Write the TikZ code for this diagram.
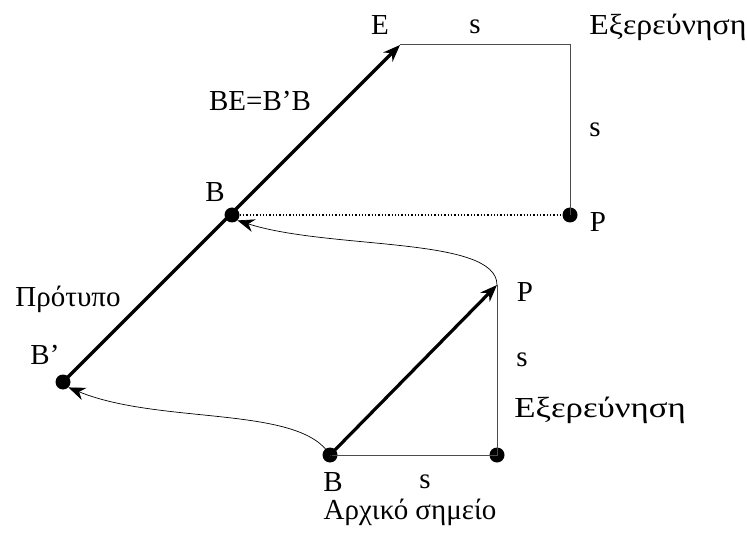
\documentclass[tikz,border=0pt]{standalone}
\usepackage{fontspec}
\setmainfont{Liberation Serif}
\usetikzlibrary{arrows.meta, positioning, calc}

\begin{document}
\begin{tikzpicture}[x=1pt, y=-1pt,
  pt/.style={circle, fill=black, inner sep=0pt, minimum size=15pt},
  lbl/.style={inner sep=1pt, font=\fontsize{29}{32}\selectfont},
  wide/.style={lbl, xscale=#1, transform shape},
  move/.style={line width=3.2pt, -{Stealth[length=17pt, width=13pt]}},
  side/.style={line width=1pt, draw=black!70},
  jump/.style={line width=0.7pt, -{Stealth[length=17pt, width=13pt]}}
]
  \useasboundingbox (0,0) rectangle (747,537);

  % points
  \node[pt] (B0) at (330,455) {};
  \node[pt] (R0) at (497,455) {};
  \coordinate (P0) at (497,285);
  \node[pt] (Bp) at (63,382) {};
  \node[pt] (B1) at (232,215) {};
  \coordinate (E) at (400,45);
  \coordinate (C1) at (570,45);
  \node[pt] (P1) at (570,215) {};

  % lines
  \draw[side] (B0.center) -- (R0.center) -- (P0);
  \draw[move] (B0.center) -- (P0);
  \draw[side] (E) -- (C1) -- (P1.center);
  \draw[dotted, line width=1.3pt] (B1) -- (P1);
  \draw[move] (Bp.center) -- (E);
  \draw[jump] (P0) .. controls (497,236) and (330,250) .. (B1.south east);
  \draw[jump] (B0.center) .. controls (300,405) and (160,425) .. (Bp.south east);

  % labels
  \node[lbl] (lE) at (380,25) {E};
  \node[lbl] (ls1) at (475,27) {s};
  \node[wide=1.1, anchor=west] (lex1) at (588,27) {Εξερεύνηση};
  \node[lbl] (ls2) at (595,130) {s};
  \node[lbl] (lP1) at (598,222) {P};
  \node[lbl] (lB1) at (215,192) {B};
  \node[lbl] (leq) at (260,101) {BE=B’B};
  \node[lbl] (lpat) at (68,299) {Πρότυπο};
  \node[lbl] (lBp) at (45,355) {B’};
  \node[lbl] (lP0) at (525,292) {P};
  \node[lbl] (ls3) at (522,360) {s};
  \node[wide=1.2] (lex0) at (600,410) {Εξερεύνηση};
  \node[lbl] (lB0) at (333,482) {B};
  \node[lbl] (ls4) at (425,482) {s};
  \node[lbl] (lstart) at (410,512) {Αρχικό σημείο};
\end{tikzpicture}
\end{document}
